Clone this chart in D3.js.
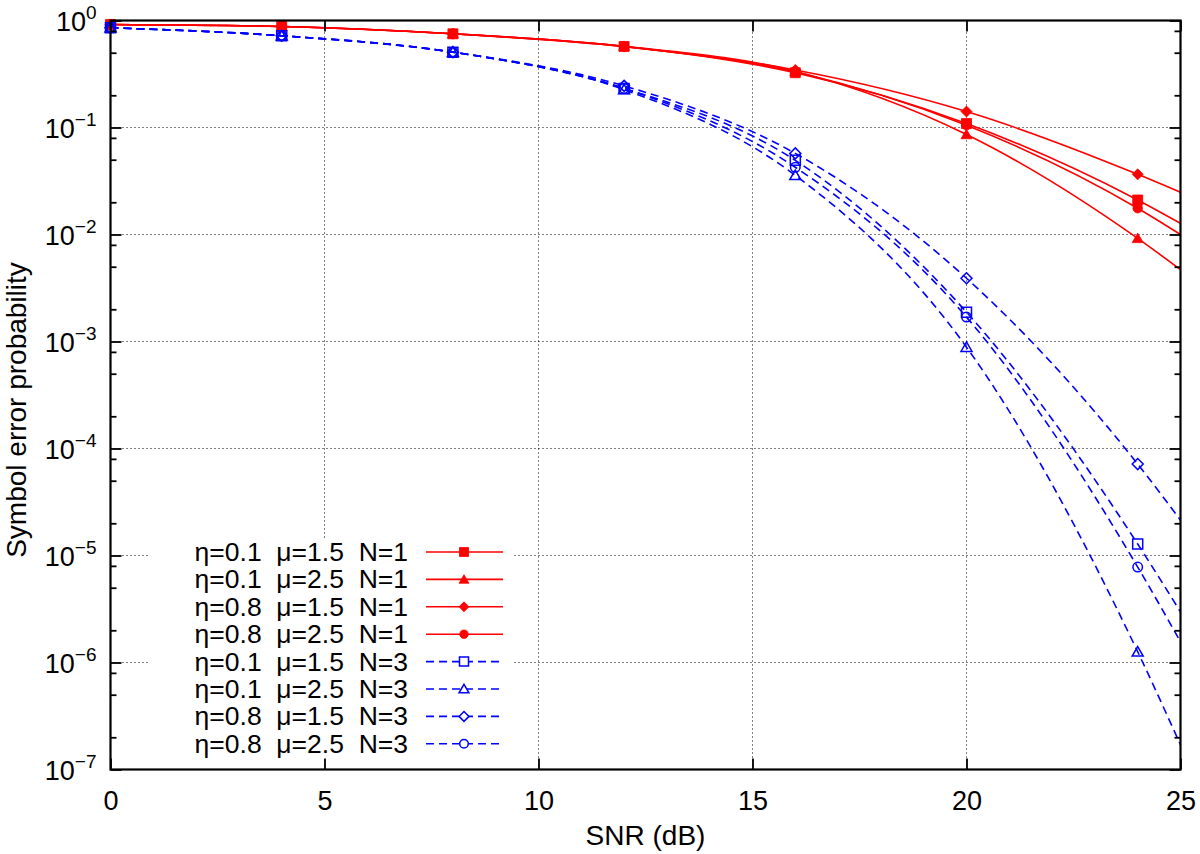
<!DOCTYPE html>
<html>
<head>
<meta charset="utf-8">
<script src="https://cdn.jsdelivr.net/npm/d3@7"></script>
<style>
  html, body { margin: 0; padding: 0; background: #fff; }
  svg { display: block; font-family: "Liberation Sans", Arial, Helvetica, sans-serif; }
</style>
</head>
<body>
<svg id="chart" width="1200" height="854"></svg>
<script>
// ---------------- data ----------------
const snr = [0, 4, 8, 12, 16, 20, 24, 25];          // SNR (dB) sample points
const markerEvery = 4;                               // markers drawn on multiples of 4 dB

const seriesLabels = [
  "η=0.1  μ=1.5  N=1",
  "η=0.1  μ=2.5  N=1",
  "η=0.8  μ=1.5  N=1",
  "η=0.8  μ=2.5  N=1",
  "η=0.1  μ=1.5  N=3",
  "η=0.1  μ=2.5  N=3",
  "η=0.8  μ=1.5  N=3",
  "η=0.8  μ=2.5  N=3"
];

const sepEta01Mu15N1 = [0.918, 0.879, 0.751, 0.572, 0.325, 0.109, 0.0210, 0.0127];
const sepEta01Mu25N1 = [0.918, 0.879, 0.751, 0.575, 0.335, 0.086, 0.0092, 0.0047];
const sepEta08Mu15N1 = [0.918, 0.879, 0.751, 0.570, 0.345, 0.141, 0.0365, 0.0248];
const sepEta08Mu25N1 = [0.918, 0.879, 0.751, 0.572, 0.330, 0.105, 0.0176, 0.0100];
const sepEta01Mu15N3 = [0.855, 0.720, 0.506, 0.232, 0.0493, 0.00188, 1.28e-5, 2.97e-6];
const sepEta01Mu25N3 = [0.855, 0.720, 0.506, 0.226, 0.0357, 0.000885, 1.26e-6, 1.70e-7];
const sepEta08Mu15N3 = [0.855, 0.720, 0.506, 0.245, 0.0573, 0.00390, 7.15e-5, 2.14e-5];
const sepEta08Mu25N3 = [0.855, 0.720, 0.506, 0.232, 0.0425, 0.00169, 7.8e-6, 1.56e-6];

const seriesValues = [sepEta01Mu15N1, sepEta01Mu25N1, sepEta08Mu15N1, sepEta08Mu25N1,
                      sepEta01Mu15N3, sepEta01Mu25N3, sepEta08Mu15N3, sepEta08Mu25N3];
const seriesMarkers = ["square", "triangle", "diamond", "circle", "square", "triangle", "diamond", "circle"];
const seriesGroup = ["N1", "N1", "N1", "N1", "N3", "N3", "N3", "N3"];

const xTicks = [0, 5, 10, 15, 20, 25];
const yExponents = [0, -1, -2, -3, -4, -5, -6, -7];
const yMinorMantissas = [2, 5, 8];

const xLabel = "SNR (dB)";
const yLabel = "Symbol error probability";

// ---------------- style ----------------
const groupStyle = {
  N1: { color: "#ff0000", dash: null, fill: true },
  N3: { color: "#0000ff", dash: "8,5", fill: false }
};

// ---------------- layout ----------------
const L = 110.5, R = 1180.5, T = 20.5, B = 769.5;
const svg = d3.select("#chart");

const x = d3.scaleLinear().domain([0, 25]).range([L, R]);
const y = d3.scaleLog().domain([1e-7, 1]).range([B, T]);

// grid
const grid = svg.append("g").attr("stroke", "#000").attr("stroke-width", 1)
  .attr("stroke-dasharray", "1,3");
xTicks.filter(v => v > 0 && v < 25).forEach(v => {
  grid.append("line").attr("x1", x(v)).attr("x2", x(v)).attr("y1", T).attr("y2", B);
});
yExponents.filter(e => e < 0 && e > -7).forEach(e => {
  grid.append("line").attr("x1", L).attr("x2", R).attr("y1", y(Math.pow(10, e))).attr("y2", y(Math.pow(10, e)));
});

// marker path generator
function markerPath(type, s) {
  const h = s / 2;
  if (type === "square") return `M${-h},${-h}H${h}V${h}H${-h}Z`;
  if (type === "triangle") return `M0,${-h * 1.05}L${h * 1.1},${h * 0.85}L${-h * 1.1},${h * 0.85}Z`;
  if (type === "diamond") return `M0,${-h * 1.1}L${h * 1.1},0L0,${h * 1.1}L${-h * 1.1},0Z`;
  const r = h * 0.95;
  return `M${r},0A${r},${r} 0 1,1 ${-r},0A${r},${r} 0 1,1 ${r},0Z`;
}

svg.append("clipPath").attr("id", "plotclip").append("rect")
  .attr("x", L).attr("y", T).attr("width", R - L).attr("height", B - T);

const line = d3.line().x(d => x(d[0])).y(d => y(d[1])).curve(d3.curveMonotoneX);

const plot = svg.append("g").attr("clip-path", "url(#plotclip)");
seriesValues.forEach((vals, i) => {
  const st = groupStyle[seriesGroup[i]];
  const pts = snr.map((s, k) => [s, vals[k]]);
  plot.append("path").datum(pts)
    .attr("d", line)
    .attr("fill", "none")
    .attr("stroke", st.color)
    .attr("stroke-width", 1.6)
    .attr("stroke-dasharray", st.dash);
});
const markersG = svg.append("g");
seriesValues.forEach((vals, i) => {
  const st = groupStyle[seriesGroup[i]];
  const pts = snr.map((s, k) => [s, vals[k]]).filter(p => p[0] % markerEvery === 0);
  markersG.selectAll(null).data(pts).enter().append("path")
    .attr("transform", d => `translate(${x(d[0])},${y(d[1])})`)
    .attr("d", markerPath(seriesMarkers[i], 10))
    .attr("fill", st.fill ? st.color : "none")
    .attr("stroke", st.color)
    .attr("stroke-width", st.fill ? 0.8 : 1.5);
});

// legend
const legX0 = 150, legX1 = 512, legY0 = 538, legY1 = 758;
svg.append("rect").attr("x", legX0).attr("y", legY0).attr("width", legX1 - legX0).attr("height", legY1 - legY0)
  .attr("fill", "#fff");
const legRow0 = 552, legStep = 27.4;
seriesLabels.forEach((lab, i) => {
  const st = groupStyle[seriesGroup[i]];
  const yy = legRow0 + i * legStep;
  svg.append("text").attr("x", 408).attr("y", yy + 9)
    .attr("text-anchor", "end").attr("font-size", 26.5)
    .style("white-space", "pre").attr("xml:space", "preserve")
    .text(lab);
  svg.append("line").attr("x1", 426).attr("x2", 503).attr("y1", yy).attr("y2", yy)
    .attr("stroke", st.color).attr("stroke-width", 1.6).attr("stroke-dasharray", st.dash);
  svg.append("path").attr("transform", `translate(464,${yy})`)
    .attr("d", markerPath(seriesMarkers[i], 9))
    .attr("fill", st.fill ? st.color : "#fff")
    .attr("stroke", st.color).attr("stroke-width", st.fill ? 0.8 : 1.5);
});

// axes (ticks inward)
const minorVals = [];
yExponents.forEach(e => { if (e < 0) yMinorMantissas.forEach(m => minorVals.push(m * Math.pow(10, e))); });

const xAxisB = d3.axisBottom(x).tickValues(xTicks).tickSize(-11).tickPadding(0).tickFormat(d3.format("d"));
const gxb = svg.append("g").attr("transform", `translate(0,${B})`).call(xAxisB);
gxb.selectAll(".tick text").attr("y", 40).attr("dy", 0).attr("font-size", 27);
svg.append("g").attr("transform", `translate(0,${T})`).call(d3.axisTop(x).tickValues(xTicks).tickSize(-11).tickFormat(""));

const yTickVals = yExponents.map(e => Math.pow(10, e));
const yAxisL = d3.axisLeft(y).tickValues(yTickVals).tickSize(-11).tickPadding(0).tickFormat("");
const gyl = svg.append("g").attr("transform", `translate(${L},0)`).call(yAxisL);
gyl.selectAll(".tick").each(function (d) {
  const e = Math.round(Math.log10(d));
  const t = d3.select(this).append("text").attr("x", -14).attr("y", 9.5)
    .attr("text-anchor", "end").attr("fill", "#000").attr("font-size", 27);
  t.append("tspan").text("10");
  t.append("tspan").attr("dy", -12).attr("font-size", 19).text(e === 0 ? "0" : "\u2212" + Math.abs(e));
});
svg.append("g").attr("transform", `translate(${R},0)`).call(d3.axisRight(y).tickValues(yTickVals).tickSize(-11).tickFormat(""));
svg.append("g").attr("transform", `translate(${L},0)`).call(d3.axisLeft(y).tickValues(minorVals).tickSize(-6).tickFormat(""));
svg.append("g").attr("transform", `translate(${R},0)`).call(d3.axisRight(y).tickValues(minorVals).tickSize(-6).tickFormat(""));

svg.selectAll(".domain").remove();
svg.selectAll(".tick line").attr("stroke", "#000").attr("stroke-width", 1.8);
svg.selectAll("g").filter(function(){ return this.getAttribute("font-family"); }).attr("font-family", null).attr("font-size", null);

// frame
svg.append("rect").attr("x", L).attr("y", T).attr("width", R - L).attr("height", B - T)
  .attr("fill", "none").attr("stroke", "#000").attr("stroke-width", 2.2);

// axis titles
svg.append("text").attr("x", (L + R) / 2).attr("y", 845).attr("text-anchor", "middle")
  .attr("font-size", 28).text(xLabel);
svg.append("text").attr("transform", `translate(26,${(T + B) / 2 + 15}) rotate(-90)`)
  .attr("text-anchor", "middle").attr("font-size", 28).text(yLabel);
</script>
</body>
</html>
